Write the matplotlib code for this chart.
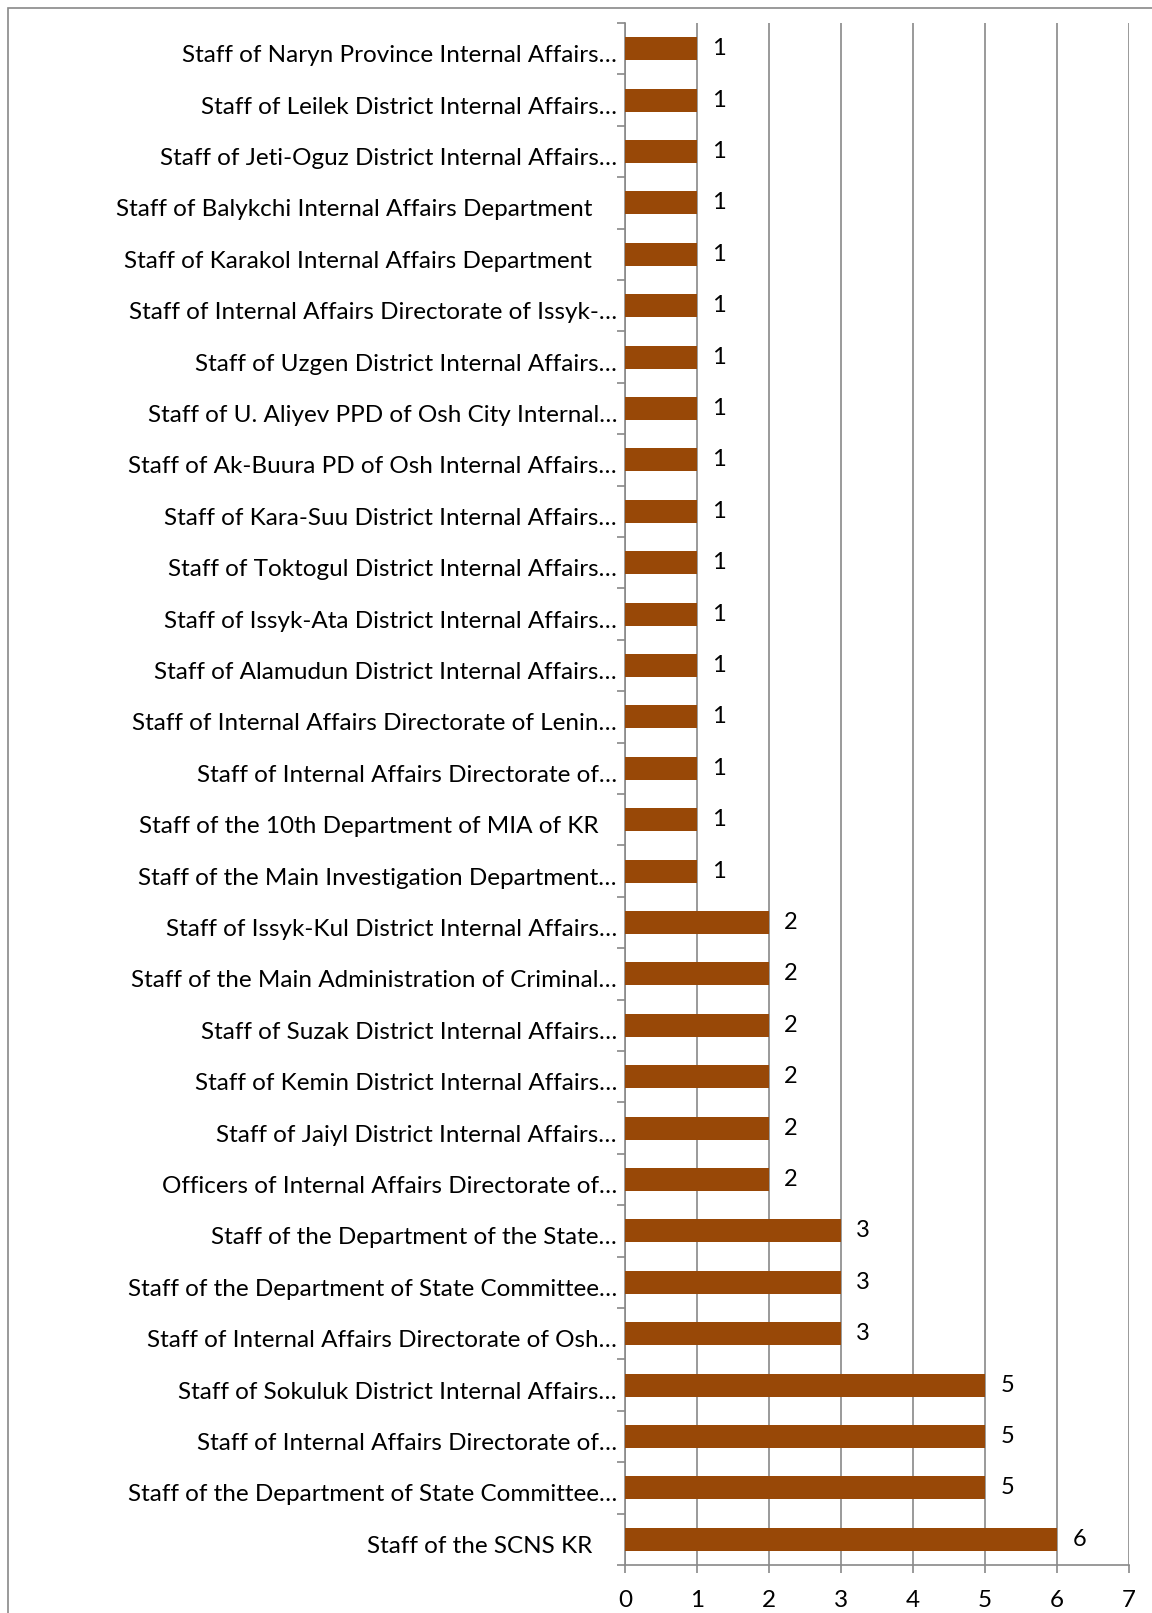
import matplotlib.pyplot as plt
import matplotlib.patches as mpatches
import matplotlib.transforms as mtransforms
import numpy as np

# Categories, top to bottom as shown in the chart
labels = [
    'Staff of Naryn Province Internal Affairs…',
    'Staff of Leilek District Internal Affairs…',
    'Staff of Jeti-Oguz District Internal Affairs…',
    'Staff of Balykchi Internal Affairs Department    ',
    'Staff of Karakol Internal Affairs Department    ',
    'Staff of Internal Affairs Directorate of Issyk-…',
    'Staff of Uzgen District Internal Affairs…',
    'Staff of U. Aliyev PPD of Osh City Internal…',
    'Staff of Ak-Buura PD of Osh Internal Affairs…',
    'Staff of Kara-Suu District Internal Affairs…',
    'Staff of Toktogul District Internal Affairs…',
    'Staff of Issyk-Ata District Internal Affairs…',
    'Staff of Alamudun District Internal Affairs…',
    'Staff of Internal Affairs Directorate of Lenin…',
    'Staff of Internal Affairs Directorate of…',
    'Staff of the 10th Department of MIA of KR   ',
    'Staff of the Main Investigation Department…',
    'Staff of Issyk-Kul District Internal Affairs…',
    'Staff of the Main Administration of Criminal…',
    'Staff of Suzak District Internal Affairs…',
    'Staff of Kemin District Internal Affairs…',
    'Staff of Jaiyl District Internal Affairs…',
    'Officers of Internal Affairs Directorate of…',
    'Staff of the Department of the State…',
    'Staff of the Department of State Committee…',
    'Staff of Internal Affairs Directorate of Osh…',
    'Staff of Sokuluk District Internal Affairs…',
    'Staff of Internal Affairs Directorate of…',
    'Staff of the Department of State Committee…',
    'Staff of the SCNS KR    ',
]
values = [1, 1, 1, 1, 1, 1, 1, 1, 1, 1, 1, 1, 1, 1, 1, 1, 1,
          2, 2, 2, 2, 2, 2, 3, 3, 3, 5, 5, 5, 6]

plt.rcParams['font.family'] = ['Lato', 'DejaVu Sans']

W, H = 1152, 1613
fig = plt.figure(figsize=(W / 100, H / 100), dpi=100)
ax = fig.add_axes([625 / W, 1 - 1565 / H, (1129 - 625) / W, (1565 - 23) / H])

# outer chart border (right/bottom cut off in the original)
fig.patches.append(mpatches.Rectangle((8 / W, -0.01), 1.2, 1 - 8 / H + 0.01,
                                      transform=fig.transFigure, fill=False,
                                      edgecolor='#898989', linewidth=1.2))

n = len(labels)
y = np.arange(n)[::-1]
bar_color = '#984807'
ax.barh(y, values, height=0.45, color=bar_color, zorder=3)

for yi, v in zip(y, values):
    ax.annotate(str(v), (v, yi), xytext=(11, 0), textcoords='offset points',
                va='center', ha='left', fontsize=17, color='#000000')

# category labels, drawn by hand so they can sit a little below bar centre
lab_trans = mtransforms.blended_transform_factory(ax.transAxes, ax.transData) + \
    mtransforms.ScaledTranslation(-8 / 100, -7 / 100, fig.dpi_scale_trans)
for yi, lab in zip(y, labels):
    ax.text(0, yi, lab, transform=lab_trans, ha='right', va='center',
            fontsize=17.5, clip_on=False)

ax.set_xlim(0, 7)
ax.set_ylim(-0.5, n - 0.5)
ax.set_xticks(range(8))
ax.set_xticklabels([str(i) for i in range(8)], fontsize=17.5)
ax.set_yticks([])
ax.set_yticks(np.arange(-0.5, n, 1.0), minor=True)

ax.tick_params(axis='y', which='minor', length=6, color='#898989', width=1.2,
               direction='out')
ax.tick_params(axis='x', length=6, color='#898989', width=1.2, direction='out',
               pad=12)

ax.grid(axis='x', color='#898989', linewidth=1.2, zorder=0)
for s in ['top', 'right']:
    ax.spines[s].set_visible(False)
for s in ['left', 'bottom']:
    ax.spines[s].set_color('#898989')
    ax.spines[s].set_linewidth(1.2)

fig.savefig('out.png', dpi=100)
